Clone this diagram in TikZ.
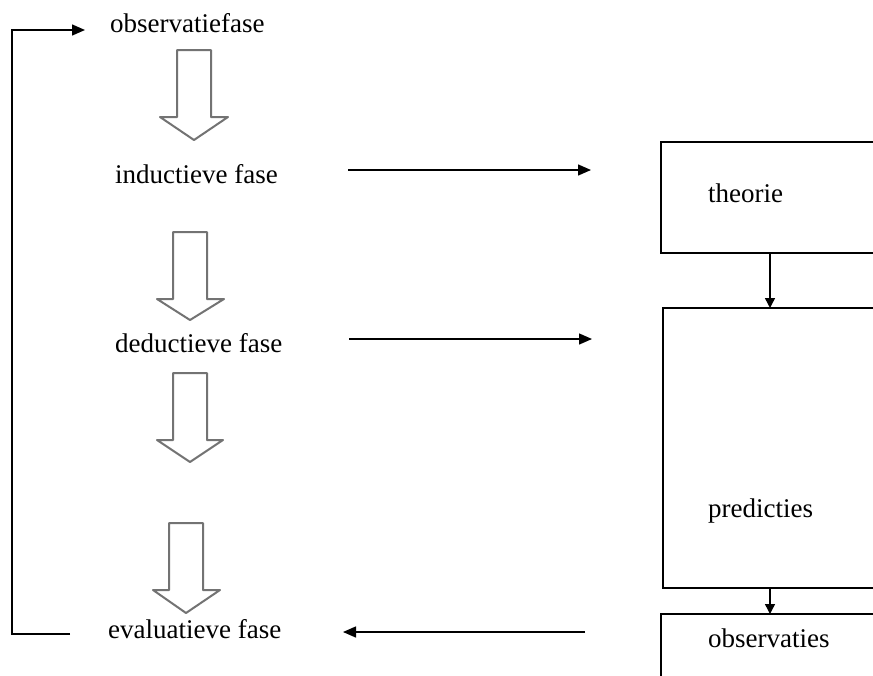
\documentclass[tikz,border=0pt]{standalone}
\usepackage{fontspec}
\setmainfont{Liberation Serif}
\usetikzlibrary{arrows.meta}
\begin{document}
\begin{tikzpicture}[x=1pt,y=-1pt,
  lbl/.style={inner sep=0pt, anchor=base west, font=\fontsize{27}{32}\selectfont},
  boxline/.style={draw=black, line width=1.4pt},
  conn/.style={draw=black, line width=1.4pt},
  tipl/.style={-{Triangle[length=13pt,width=11pt]}},
  tips/.style={-{Triangle[length=10pt,width=10pt]}},
  hollow/.style={draw=black!55, line width=2pt, fill=white, line join=round}]
\useasboundingbox (0,0) rectangle (873,675);
\clip (0,0) rectangle (873,675);

% phase labels
\node[lbl] (obs)  at (110,32)  {observatiefase};
\node[lbl] (ind)  at (115,183) {inductieve fase};
\node[lbl] (ded)  at (115,352) {deductieve fase};
\node[lbl] (eval) at (108,638) {evaluatieve fase};

% boxes (extending past the right edge)
\draw[boxline] (900,142) -- (661,142) -- (661,253) -- (900,253);
\draw[boxline] (900,308) -- (663,308) -- (663,588) -- (900,588);
\draw[boxline] (900,614) -- (661,614) -- (661,700);
\node[lbl] (theo) at (708,202) {theorie};
\node[lbl] (pred) at (708,517) {predicties};
\node[lbl] (obsv) at (708,647) {observaties};

% hollow block arrows
\draw[hollow] (177,50) -- (211,50) -- (211,117) -- (228,117) -- (194,140) -- (160,117) -- (177,117) -- cycle;
\draw[hollow] (173,232) -- (207,232) -- (207,299) -- (224,299) -- (190,320) -- (157,299) -- (173,299) -- cycle;
\draw[hollow] (173,373) -- (207,373) -- (207,440) -- (223,440) -- (190,462) -- (157,440) -- (173,440) -- cycle;
\draw[hollow] (169,523) -- (203,523) -- (203,590) -- (220,590) -- (186,613) -- (153,590) -- (169,590) -- cycle;

% connector end points
\coordinate (loopA) at (70,634);
\coordinate (loopB) at (85,30);
\coordinate (h1s) at (348,170);
\coordinate (h1e) at (591,170);
\coordinate (h2s) at (349,339);
\coordinate (h2e) at (592,339);
\coordinate (h3s) at (585,632);
\coordinate (h3e) at (343,632);
\coordinate (v1s) at (770,253);
\coordinate (v1e) at (770,308);
\coordinate (v2s) at (770,588);
\coordinate (v2e) at (770,614);

% connectors
\draw[conn, tipl] (loopA) -- (12,634) -- (12,30) -- (loopB);
\draw[conn, tipl] (h1s) -- (h1e);
\draw[conn, tipl] (h2s) -- (h2e);
\draw[conn, tipl] (h3s) -- (h3e);
\draw[conn, tips] (v1s) -- (v1e);
\draw[conn, tips] (v2s) -- (v2e);
\end{tikzpicture}
\end{document}
